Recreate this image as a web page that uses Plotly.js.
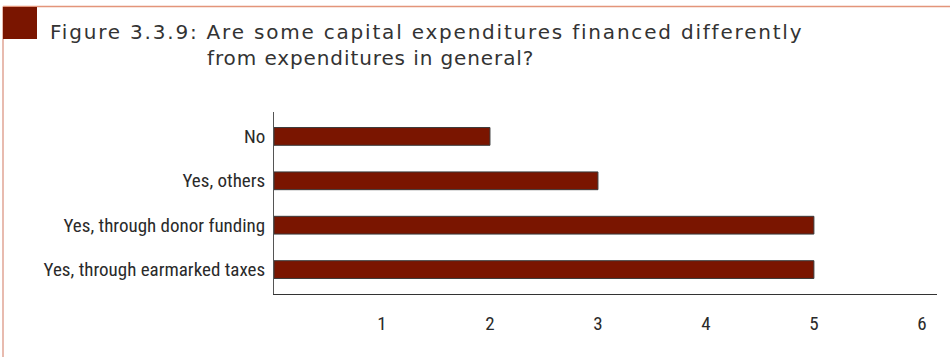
<!DOCTYPE html>
<html>
<head>
<meta charset="utf-8">
<script src="https://cdn.plot.ly/plotly-3.0.1.min.js"></script>
<style>
html,body{margin:0;padding:0;background:#fff;}
#chart{width:950px;height:357px;}
#chart .gtitle{letter-spacing:1.8px;}
#chart .annotation-text{letter-spacing:0.9px;}
</style>
</head>
<body>
<div id="chart"></div>
<script>
const categories = ["Yes, through earmarked taxes", "Yes, through donor funding", "Yes, others", "No"];
const counts = [5, 5, 3, 2];
const xTickValues = [1, 2, 3, 4, 5, 6];
const titleLine1 = "Figure 3.3.9: Are some capital expenditures financed differently";
const titleLine2 = "from expenditures in general?";

const W = 950, H = 357;
const M = {l: 274, r: 13, t: 112, b: 63};
const pw = W - M.l - M.r, ph = H - M.t - M.b;
const px = x => (x - M.l) / pw;
const py = y => (H - M.b - y) / ph;

const barColor = "#7a1500";
const condFont = "Roboto Condensed, DejaVu Sans Condensed";

const trace = {
  type: "bar",
  orientation: "h",
  x: counts,
  y: categories,
  width: 0.4,
  marker: {color: barColor, line: {color: "#3a3a3a", width: 1}},
  hoverinfo: "x+y"
};

const layout = {
  width: W, height: H,
  margin: M,
  paper_bgcolor: "#fff", plot_bgcolor: "#fff",
  showlegend: false,
  title: {
    text: titleLine1,
    font: {family: "DejaVu Sans", size: 20, color: "#333"},
    x: 50 / W, xref: "container", xanchor: "left",
    y: 1 - 39 / H, yref: "container", yanchor: "bottom"
  },
  xaxis: {
    range: [0, 6.14],
    tickvals: xTickValues,
    ticks: "",
    showgrid: false,
    zeroline: false,
    showline: true, linecolor: "#333", linewidth: 1,
    ticklabelstandoff: 12,
    tickfont: {family: condFont, size: 19, color: "#2a2a2a"},
    fixedrange: true
  },
  yaxis: {
    type: "category",
    categoryorder: "array",
    categoryarray: categories,
    range: [-0.55, 3.55],
    ticks: "",
    showgrid: false,
    zeroline: false,
    showline: true, linecolor: "#555", linewidth: 1,
    ticklabelstandoff: 4,
    tickfont: {family: condFont, size: 19, color: "#2a2a2a"},
    fixedrange: true
  },
  annotations: [{
    text: titleLine2,
    xref: "paper", yref: "paper",
    x: px(205), y: py(72),
    xanchor: "left", yanchor: "bottom", align: "left",
    showarrow: false,
    font: {family: "DejaVu Sans", size: 20, color: "#333"}
  }],
  shapes: [
    {type: "line", xref: "paper", yref: "paper", x0: px(3), x1: px(950), y0: py(6.5), y1: py(6.5),
     line: {color: "#e3957a", width: 1.5}, layer: "below"},
    {type: "line", xref: "paper", yref: "paper", x0: px(3), x1: px(3), y0: py(6.5), y1: py(357),
     line: {color: "#e0a595", width: 1.5}, layer: "below"},
    {type: "rect", xref: "paper", yref: "paper", x0: px(3), x1: px(37), y0: py(7), y1: py(39),
     fillcolor: barColor, line: {width: 0}, layer: "above"}
  ]
};

Plotly.newPlot("chart", [trace], layout, {displayModeBar: false, staticPlot: true});
</script>
</body>
</html>
